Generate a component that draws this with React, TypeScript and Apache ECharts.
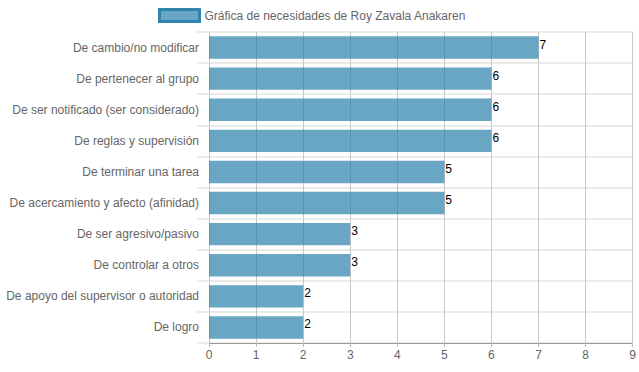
import React, { useEffect, useRef } from "react";
import * as echarts from "echarts";

const categories = [
  "De cambio/no modificar",
  "De pertenecer al grupo",
  "De ser notificado (ser considerado)",
  "De reglas y supervisión",
  "De terminar una tarea",
  "De acercamiento y afecto (afinidad)",
  "De ser agresivo/pasivo",
  "De controlar a otros",
  "De apoyo del supervisor o autoridad",
  "De logro",
];
const values = [7, 6, 6, 6, 5, 5, 3, 3, 2, 2];
const seriesName = "Gráfica de necesidades de Roy Zavala Anakaren";

export default function App() {
  const ref = useRef<HTMLDivElement>(null);
  useEffect(() => {
    const chart = echarts.init(ref.current!, null, { renderer: "svg" });
    chart.setOption({
      animation: false,
      legend: {
        data: [{ name: seriesName, icon: "rect" }],
        top: 8,
        left: 158,
        padding: 0,
        itemWidth: 40,
        itemHeight: 12,
        itemGap: 6,
        textStyle: { color: "#666", fontSize: 12, fontFamily: "Arial, Liberation Sans, sans-serif" },
        itemStyle: { color: "rgba(41,128,170,0.7)", borderColor: "rgba(41,128,170,0.95)", borderWidth: 3 },
      },
      grid: { left: 209, right: 6, top: 32, bottom: 29 },
      xAxis: {
        type: "value",
        min: 0,
        max: 9,
        interval: 1,
        axisLine: { show: true, lineStyle: { color: "#999" } },
        axisTick: { show: true, length: 4, lineStyle: { color: "#bbb" } },
        axisLabel: { color: "#666", fontSize: 12, margin: 6, fontFamily: "Arial, Liberation Sans, sans-serif" },
        splitLine: { show: true, lineStyle: { color: "#c8c8c8", width: 1 } },
      },
      yAxis: {
        type: "category",
        data: categories,
        inverse: true,
        axisLine: { show: false },
        axisTick: { show: true, length: 12, lineStyle: { color: "#ebebeb", width: 2 } },
        axisLabel: { color: "#666", fontSize: 12, margin: 10, fontFamily: "Arial, Liberation Sans, sans-serif" },
        splitLine: { show: true, lineStyle: { color: "#ebebeb", width: 2 } },
      },
      series: [
        {
          name: seriesName,
          type: "bar",
          data: values,
          barCategoryGap: "28%",
          itemStyle: {
            color: "rgba(41,128,170,0.7)",
          },
          label: {
            show: true,
            position: "right",
            distance: 1,
            color: "#000",
            fontSize: 12,
            offset: [0, -3],
            fontFamily: "Arial, Liberation Sans, sans-serif",
          },
        },
      ],
    });
    return () => chart.dispose();
  }, []);
  return <div ref={ref} style={{ width: 639, height: 372, position: "absolute", left: 0, top: 0 }} />;
}
